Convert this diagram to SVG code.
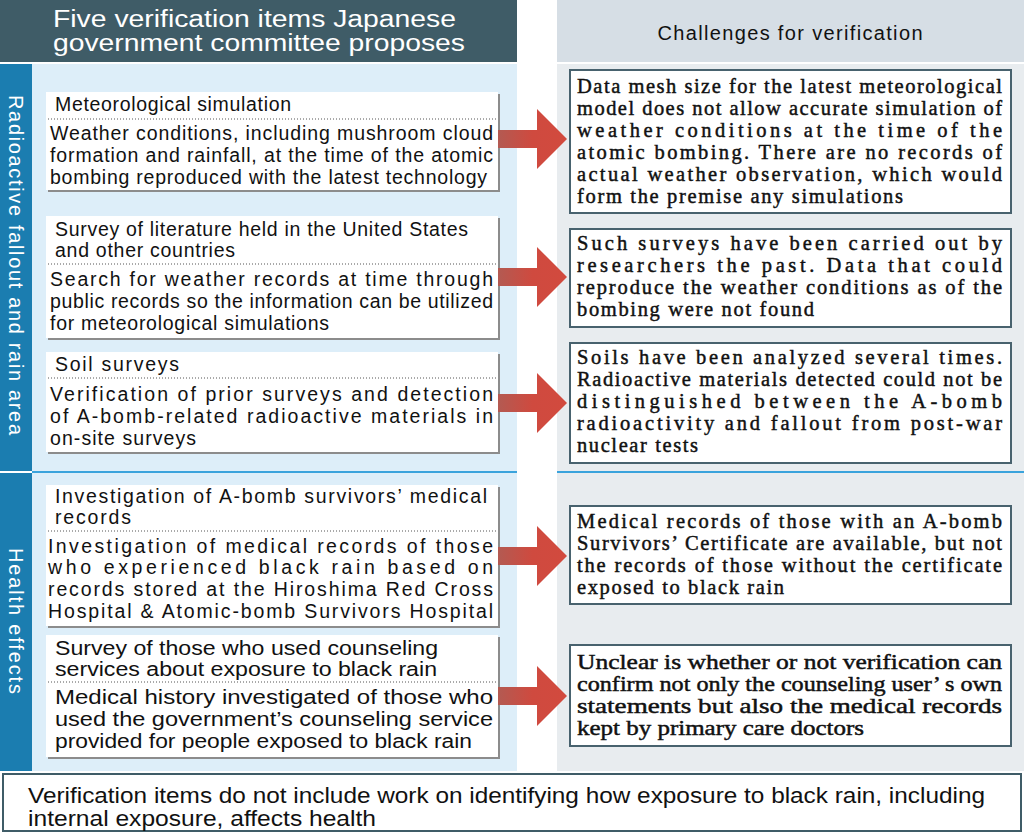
<svg xmlns="http://www.w3.org/2000/svg" xmlns:xlink="http://www.w3.org/1999/xlink" width="1024" height="833" viewBox="0 0 1024 833">
<defs>
<style>
.hdr{font-family:"Liberation Sans",Arial,sans-serif;font-size:23.5px;fill:#fff}
.hdr2{font-family:"Liberation Sans",Arial,sans-serif;font-size:20px;fill:#111}
.side{font-family:"Liberation Sans",Arial,sans-serif;font-size:20px;fill:#fff}
.lt{font-family:"Liberation Sans",Arial,sans-serif;font-size:19.5px;fill:#111}
.rt{font-family:"Liberation Serif","Times New Roman",serif;font-size:20.5px;fill:#111;stroke:#111;stroke-width:0.45}
.bt{font-family:"Liberation Sans",Arial,sans-serif;font-size:22.5px;fill:#111}
.shadow{fill:#8c8c8c}
.card{fill:#fff}
.dot{stroke:#555;stroke-width:1;stroke-dasharray:1 2}
.rbox{fill:#fff;stroke:#48626e;stroke-width:2}
.arrow{fill:url(#ag)}
</style>
<linearGradient id="ag" x1="0" y1="0" x2="1" y2="0">
<stop offset="0" stop-color="#b35a52"/>
<stop offset="0.5" stop-color="#cf4a3f"/>
<stop offset="1" stop-color="#d24a3e"/>
</linearGradient>
<path id="arr" d="M498,-9 L537,-9 L537,-30 L567,0 L537,30 L537,9 L498,9 Z"/>
</defs>

<g id="background">
<rect x="0" y="0" width="517" height="62" fill="#3f5c67"/>
<rect x="557" y="0" width="467" height="62" fill="#d6dee5"/>
<rect x="32" y="64" width="485" height="707" fill="#ddeef9"/>
<rect x="557" y="64" width="467" height="707" fill="#e8ecef"/>
<rect x="0" y="64" width="32" height="707" fill="#1b7db0"/>
<rect x="0" y="471" width="32" height="2" fill="#fff"/>
<rect x="32" y="471" width="485" height="2" fill="#3aa3dc"/>
<rect x="557" y="471" width="467" height="2" fill="#3aa3dc"/>
</g>

<g id="header-left">
<text class="hdr" x="53" y="27" textLength="403" lengthAdjust="spacingAndGlyphs">Five verification items Japanese</text>
<text class="hdr" x="53" y="51" textLength="412" lengthAdjust="spacingAndGlyphs">government committee proposes</text>
</g>
<g id="header-right">
<text class="hdr2" x="790" y="40" text-anchor="middle" textLength="265">Challenges for verification</text>
</g>

<g id="side-radioactive">
<text class="side" transform="translate(9,265) rotate(90)" text-anchor="middle" textLength="340">Radioactive fallout and rain area</text>
</g>
<g id="side-health">
<text class="side" transform="translate(9,621) rotate(90)" text-anchor="middle" textLength="146">Health effects</text>
</g>

<g id="item-meteorological">
<rect class="shadow" x="48" y="94" width="452" height="98"/>
<rect class="card" x="46" y="92" width="452" height="98"/>
<text class="lt" x="55" y="111" textLength="236">Meteorological simulation</text>
<line class="dot" x1="48" y1="119" x2="497" y2="119"/>
<text class="lt" x="50" y="140" textLength="443">Weather conditions, including mushroom cloud</text>
<text class="lt" x="50" y="162" textLength="443">formation and rainfall, at the time of the atomic</text>
<text class="lt" x="50" y="184" textLength="437">bombing reproduced with the latest technology</text>
</g>

<g id="item-literature">
<rect class="shadow" x="48" y="218" width="452" height="122"/>
<rect class="card" x="46" y="216" width="452" height="122"/>
<text class="lt" x="55" y="236" textLength="413">Survey of literature held in the United States</text>
<text class="lt" x="55" y="257" textLength="180">and other countries</text>
<line class="dot" x1="48" y1="264" x2="497" y2="264"/>
<text class="lt" x="50" y="286" textLength="443">Search for weather records at time through</text>
<text class="lt" x="50" y="308" textLength="443">public records so the information can be utilized</text>
<text class="lt" x="50" y="330" textLength="279">for meteorological simulations</text>
</g>

<g id="item-soil">
<rect class="shadow" x="48" y="354" width="452" height="100"/>
<rect class="card" x="46" y="352" width="452" height="100"/>
<text class="lt" x="55" y="371" textLength="124">Soil surveys</text>
<line class="dot" x1="48" y1="378" x2="497" y2="378"/>
<text class="lt" x="50" y="401" textLength="443">Verification of prior surveys and detection</text>
<text class="lt" x="50" y="423" textLength="443">of A-bomb-related radioactive materials in</text>
<text class="lt" x="50" y="445" textLength="146">on-site surveys</text>
</g>

<g id="item-medical-records">
<rect class="shadow" x="48" y="487" width="452" height="141"/>
<rect class="card" x="46" y="485" width="452" height="141"/>
<text class="lt" x="55" y="503" textLength="432">Investigation of A-bomb survivors’ medical</text>
<text class="lt" x="55" y="524" textLength="76">records</text>
<line class="dot" x1="48" y1="531" x2="497" y2="531"/>
<text class="lt" x="48" y="553" textLength="445">Investigation of medical records of those</text>
<text class="lt" x="48" y="574" textLength="445">who experienced black rain based on</text>
<text class="lt" x="48" y="596" textLength="445">records stored at the Hiroshima Red Cross</text>
<text class="lt" x="48" y="618" textLength="445">Hospital &amp; Atomic-bomb Survivors Hospital</text>
</g>

<g id="item-counseling">
<rect class="shadow" x="48" y="637" width="452" height="122"/>
<rect class="card" x="46" y="635" width="452" height="122"/>
<text class="lt" x="55" y="655" textLength="383" lengthAdjust="spacingAndGlyphs">Survey of those who used counseling</text>
<text class="lt" x="55" y="676" textLength="382" lengthAdjust="spacingAndGlyphs">services about exposure to black rain</text>
<line class="dot" x1="48" y1="682" x2="497" y2="682"/>
<text class="lt" x="55" y="704" textLength="438" lengthAdjust="spacingAndGlyphs">Medical history investigated of those who</text>
<text class="lt" x="55" y="726" textLength="438" lengthAdjust="spacingAndGlyphs">used the government’s counseling service</text>
<text class="lt" x="55" y="748" textLength="417" lengthAdjust="spacingAndGlyphs">provided for people exposed to black rain</text>
</g>

<g id="connectors">
<use xlink:href="#arr" class="arrow" transform="translate(0,139)"/>
<use xlink:href="#arr" class="arrow" transform="translate(0,277)"/>
<use xlink:href="#arr" class="arrow" transform="translate(0,403)"/>
<use xlink:href="#arr" class="arrow" transform="translate(0,556)"/>
<use xlink:href="#arr" class="arrow" transform="translate(0,696)"/>
</g>

<g id="challenge-meteorological">
<rect class="rbox" x="570" y="70" width="441" height="143"/>
<text class="rt" x="577" y="93" textLength="425">Data mesh size for the latest meteorological</text>
<text class="rt" x="577" y="115" textLength="425">model does not allow accurate simulation of</text>
<text class="rt" x="577" y="137" textLength="425">weather conditions at the time of the</text>
<text class="rt" x="577" y="159" textLength="425">atomic bombing. There are no records of</text>
<text class="rt" x="577" y="181" textLength="425">actual weather observation, which would</text>
<text class="rt" x="577" y="203" textLength="326">form the premise any simulations</text>
</g>

<g id="challenge-literature">
<rect class="rbox" x="570" y="229" width="441" height="98"/>
<text class="rt" x="577" y="250" textLength="425">Such surveys have been carried out by</text>
<text class="rt" x="577" y="272" textLength="425">researchers the past. Data that could</text>
<text class="rt" x="577" y="294" textLength="425">reproduce the weather conditions as of the</text>
<text class="rt" x="577" y="316" textLength="237">bombing were not found</text>
</g>

<g id="challenge-soil">
<rect class="rbox" x="570" y="343" width="441" height="120"/>
<text class="rt" x="577" y="364" textLength="425">Soils have been analyzed several times.</text>
<text class="rt" x="577" y="386" textLength="425">Radioactive materials detected could not be</text>
<text class="rt" x="577" y="408" textLength="425">distinguished between the A-bomb</text>
<text class="rt" x="577" y="430" textLength="425">radioactivity and fallout from post-war</text>
<text class="rt" x="577" y="452" textLength="121">nuclear tests</text>
</g>

<g id="challenge-medical-records">
<rect class="rbox" x="570" y="506" width="441" height="98"/>
<text class="rt" x="577" y="528" textLength="425">Medical records of those with an A-bomb</text>
<text class="rt" x="577" y="550" textLength="425">Survivors’ Certificate are available, but not</text>
<text class="rt" x="577" y="572" textLength="425">the records of those without the certificate</text>
<text class="rt" x="577" y="594" textLength="207">exposed to black rain</text>
</g>

<g id="challenge-counseling">
<rect class="rbox" x="570" y="645" width="441" height="101"/>
<text class="rt" x="577" y="669" textLength="425" lengthAdjust="spacingAndGlyphs">Unclear is whether or not verification can</text>
<text class="rt" x="577" y="691" textLength="425" lengthAdjust="spacingAndGlyphs">confirm not only the counseling user’ s own</text>
<text class="rt" x="577" y="713" textLength="425" lengthAdjust="spacingAndGlyphs">statements but also the medical records</text>
<text class="rt" x="577" y="735" textLength="287" lengthAdjust="spacingAndGlyphs">kept by primary care doctors</text>
</g>

<g id="footer-note">
<rect x="3" y="774" width="1018" height="57" fill="#fff" stroke="#3f5c67" stroke-width="2"/>
<text class="bt" x="28" y="803" textLength="957" lengthAdjust="spacingAndGlyphs">Verification items do not include work on identifying how exposure to black rain, including</text>
<text class="bt" x="28" y="826" textLength="348" lengthAdjust="spacingAndGlyphs">internal exposure, affects health</text>
</g>
</svg>
